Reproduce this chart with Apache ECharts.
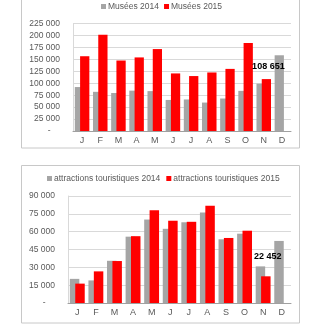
<!DOCTYPE html>
<html><head><meta charset="utf-8">
<script src="https://cdn.jsdelivr.net/npm/echarts@6/dist/echarts.min.js"></script>
<style>html,body{margin:0;padding:0;background:#fff}#c{width:324px;height:324px}</style>
</head><body><div id="c"></div>
<script>
var months = ['J','F','M','A','M','J','J','A','S','O','N','D'];
var museesName2014 = 'Musées 2014';
var museesName2015 = 'Musées 2015';
var musees2014 = [92000, 82000, 79500, 84500, 83500, 65000, 66000, 59500, 68000, 84000, 99000, 158500];
var musees2015 = [156500, 201500, 147500, 154000, 171500, 120500, 115000, 122500, 130000, 184000, 108651, null];
var attrName2014 = 'attractions touristiques 2014';
var attrName2015 = 'attractions touristiques 2015';
var attr2014 = [20300, 19000, 35500, 55800, 70200, 62400, 67900, 76100, 53600, 58300, 30800, 52200];
var attr2015 = [16300, 26600, 35300, 56200, 78000, 69200, 68300, 81700, 54700, 60800, 22452, null];
var labelledIndex = 10;

var GRAY = '#a5a5a5', RED = '#ff0000', TXT = '#595959', FONT = 'Liberation Sans';
function fmt(v){
  if (v === 0) return '-    ';
  return String(v).replace(/\B(?=(\d{3})+(?!\d))/g, ' ');
}
function withLabel(arr, offsetY){
  return arr.map(function(v, i){
    if (i !== labelledIndex) return v;
    return {value: v, label: {show: true, position: 'top', offset: [2, offsetY], formatter: function(p){return fmt(p.value);},
      color: '#000', fontWeight: 'bold', fontSize: 9, fontFamily: FONT}};
  });
}
function yAxis(gi, max, interval){
  return {type: 'value', gridIndex: gi, min: 0, max: max, interval: interval,
    axisLine: {show: true, lineStyle: {color: '#d9d9d9'}}, axisTick: {show: false},
    splitLine: {lineStyle: {color: '#d9d9d9'}},
    axisLabel: {formatter: fmt, color: TXT, fontSize: 8.5, fontFamily: FONT, margin: 13}};
}
function xAxis(gi){
  return {type: 'category', gridIndex: gi, data: months,
    axisLine: {lineStyle: {color: '#a0a0a0'}}, axisTick: {show: false},
    axisLabel: {color: TXT, fontSize: 9, fontFamily: FONT, margin: 5, interval: 0}};
}
function legend(top, left, names, gap){
  return {top: top, left: left, data: names, itemWidth: 5, itemHeight: 5, itemGap: gap,
    icon: 'rect', textStyle: {color: TXT, fontSize: 8.5, fontFamily: FONT, padding: [0,0,0,-3]}, padding: 0, selectedMode: false};
}
var chart = echarts.init(document.getElementById('c'), null, {renderer: 'canvas'});
chart.setOption({
  animation: false,
  backgroundColor: '#fff',
  graphic: [
    {type: 'rect', shape: {x: 21.5, y: -5, width: 278, height: 153}, style: {fill: 'none', stroke: '#c8c8c8', lineWidth: 1}},
    {type: 'rect', shape: {x: 21.5, y: 165.5, width: 278, height: 157.5}, style: {fill: 'none', stroke: '#c8c8c8', lineWidth: 1}}
  ],
  legend: [
    legend(2, 101, [museesName2014, museesName2015], 5),
    legend(174, 47, [attrName2014, attrName2015], 6)
  ],
  grid: [
    {left: 73, right: 33, top: 23.5, bottom: 193, containLabel: false},
    {left: 68, right: 33, top: 196, bottom: 21, containLabel: false}
  ],
  xAxis: [xAxis(0), xAxis(1)],
  yAxis: [yAxis(0, 225000, 25000), yAxis(1, 90000, 15000)],
  series: [
    {name: museesName2014, type: 'bar', xAxisIndex: 0, yAxisIndex: 0, data: musees2014, itemStyle: {color: GRAY}, barWidth: '51%', barGap: '-43%'},
    {name: museesName2015, type: 'bar', xAxisIndex: 0, yAxisIndex: 0, data: withLabel(musees2015, -3), itemStyle: {color: RED}, barWidth: '51%', barGap: '-43%'},
    {name: attrName2014, type: 'bar', xAxisIndex: 1, yAxisIndex: 1, data: attr2014, itemStyle: {color: GRAY}, barWidth: '51%', barGap: '-43%'},
    {name: attrName2015, type: 'bar', xAxisIndex: 1, yAxisIndex: 1, data: withLabel(attr2015, -10), itemStyle: {color: RED}, barWidth: '51%', barGap: '-43%'}
  ]
});
</script></body></html>
